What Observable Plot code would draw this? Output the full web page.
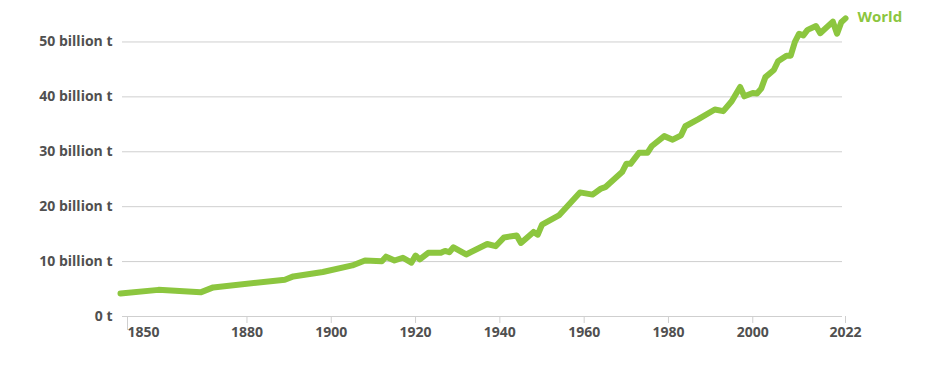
<!DOCTYPE html>
<html>
<head>
<meta charset="utf-8">
<script src="https://cdn.jsdelivr.net/npm/d3@7"></script>
<script src="https://cdn.jsdelivr.net/npm/@observablehq/plot@0.6"></script>
<style>
  html, body { margin: 0; padding: 0; background: #fff; }
  #chart { width: 930px; height: 383px; }
</style>
</head>
<body>
<div id="chart"></div>
<script>
const years = [1850, 1859, 1869, 1872, 1889, 1891, 1898, 1905, 1908, 1912, 1913, 1915, 1917, 1919, 1920, 1921, 1923, 1926, 1927, 1928, 1929, 1932, 1937, 1939, 1941, 1944, 1945, 1948, 1949, 1950, 1954, 1959, 1962, 1964, 1965, 1969, 1970, 1971, 1973, 1975, 1976, 1979, 1981, 1983, 1984, 1987, 1991, 1993, 1995, 1997, 1998, 2000, 2001, 2002, 2003, 2005, 2006, 2008, 2009, 2010, 2011, 2012, 2013, 2015, 2016, 2019, 2020, 2021, 2022];
const worldValues = [4.2, 4.85, 4.4, 5.3, 6.7, 7.3, 8.1, 9.3, 10.2, 10.05, 10.9, 10.2, 10.7, 9.8, 11.1, 10.4, 11.6, 11.6, 11.95, 11.7, 12.6, 11.3, 13.2, 12.8, 14.4, 14.75, 13.4, 15.4, 14.9, 16.75, 18.4, 22.6, 22.2, 23.3, 23.55, 26.3, 27.8, 27.8, 29.8, 29.8, 31.0, 32.85, 32.2, 33.0, 34.65, 35.9, 37.7, 37.4, 39.2, 41.8, 40.1, 40.7, 40.6, 41.5, 43.6, 44.9, 46.5, 47.5, 47.5, 50.0, 51.5, 51.2, 52.2, 52.9, 51.6, 53.7, 51.5, 53.6, 54.3];
const seriesName = "World";
const xTickValues = [1880, 1900, 1920, 1940, 1960, 1980, 2000, 2022];
const xFirstTick = [1850];
const yTickValues = [0, 10, 20, 30, 40, 50];
const yTickLabel = d => d === 0 ? "0 t" : `${d} billion t`;

const data = years.map((year, i) => ({year, value: worldValues[i]}));
const last = data[data.length - 1];

const green = "#8cc63f";
const textGray = "#505050";
const gridGray = "#cfcfcf";
const labelFont = "'Open Sans', Lato, sans-serif";

const chart = Plot.plot({
  width: 930,
  height: 383,
  marginLeft: 120,
  marginRight: 85,
  marginTop: 14,
  marginBottom: 67,
  x: {domain: [1850, 2022]},
  y: {domain: [0, 55]},
  style: {fontFamily: labelFont, background: "#fff"},
  marks: [
    Plot.gridY(yTickValues.filter(d => d > 0), {stroke: gridGray, strokeOpacity: 1, strokeWidth: 1, insetLeft: 2, insetRight: 3}),
    Plot.ruleY([0], {stroke: gridGray, strokeWidth: 1, insetLeft: 2, insetRight: 3}),
    Plot.axisY(yTickValues, {tickSize: 0, tickPadding: 8, tickFormat: yTickLabel, fontSize: 14, fontWeight: 700, fill: textGray, label: null}),
    Plot.axisX(xFirstTick, {tickSize: 14, tickPadding: -3, textAnchor: "start", dx: 7, stroke: gridGray, tickFormat: d => String(d), fontSize: 14, fontWeight: 700, fill: textGray, label: null}),
    Plot.axisX(xTickValues, {tickSize: 7, tickPadding: 4, stroke: gridGray, tickFormat: d => String(d), fontSize: 14, fontWeight: 700, fill: textGray, label: null}),
    Plot.line(data, {x: "year", y: "value", stroke: green, strokeWidth: 6, strokeLinejoin: "round", strokeLinecap: "round"}),
    Plot.text([last], {x: "year", y: "value", text: () => seriesName, textAnchor: "start", dx: 12, dy: -1, fill: green, fontSize: 15, fontWeight: 700})
  ]
});
document.getElementById("chart").appendChild(chart);
</script>
</body>
</html>
